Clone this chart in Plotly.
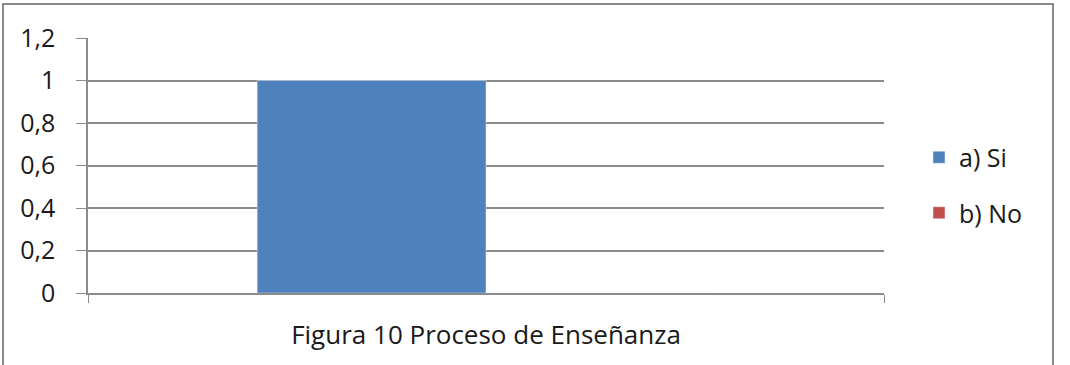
import plotly.graph_objects as go

categories = ["Figura 10 Proceso de Enseñanza"]
series_names = ["a) Si", "b) No"]
values_si = [1]
values_no = [0]
colors = ["#4F81BD", "#C0504D"]

W, H = 1070, 365
L, R, T, B = 88, 186, 38, 72
pw, ph = W - L - R, H - T - B

fig = go.Figure()
fig.add_trace(go.Bar(x=categories, y=values_si, name=series_names[0],
                     marker_color=colors[0], legendgroup="a"))
fig.add_trace(go.Bar(x=categories, y=values_no, name=series_names[1],
                     marker_color=colors[1], legendgroup="b"))

font = dict(family="Open Sans, Noto Sans, sans-serif", size=26, color="#1a1a1a")
grid = "#8C8C8C"

fig.update_layout(
    width=W, height=H,
    margin=dict(l=L, r=R, t=T, b=B, pad=0),
    paper_bgcolor="white", plot_bgcolor="white",
    barmode="group", bargap=0.425, bargroupgap=0,
    separators=", ",
    font=font,
    showlegend=True,
    legend=dict(x=(919 - L) / pw, y=(T + ph - 185) / ph, xanchor="left", yanchor="middle",
                traceorder="grouped", tracegroupgap=20, font=dict(size=25),
                itemwidth=30, bgcolor="rgba(0,0,0,0)"),
    xaxis=dict(type="category", range=[-0.5, 0.5], showline=True, linecolor=grid, linewidth=1.5,
               ticks="outside", tickson="boundaries", ticklen=8, tickcolor=grid,
               ticklabelstandoff=18, showgrid=False),
    yaxis=dict(range=[0, 1.2], dtick=0.2, tick0=0, showline=True, linecolor=grid, linewidth=1.5,
               ticks="outside", ticklen=10, tickcolor=grid, showgrid=True, gridcolor=grid,
               gridwidth=1.5, zeroline=False, ticklabelstandoff=16, tickfont=dict(size=25)),
    shapes=[dict(type="rect", xref="paper", yref="paper",
                 x0=(3 - L) / pw, x1=(1053 - L) / pw,
                 y0=(T + ph - 368) / ph, y1=(T + ph - 4) / ph,
                 line=dict(color="#8A8A8A", width=2), fillcolor="rgba(0,0,0,0)", layer="below")],
)

fig.write_html("out.html")
